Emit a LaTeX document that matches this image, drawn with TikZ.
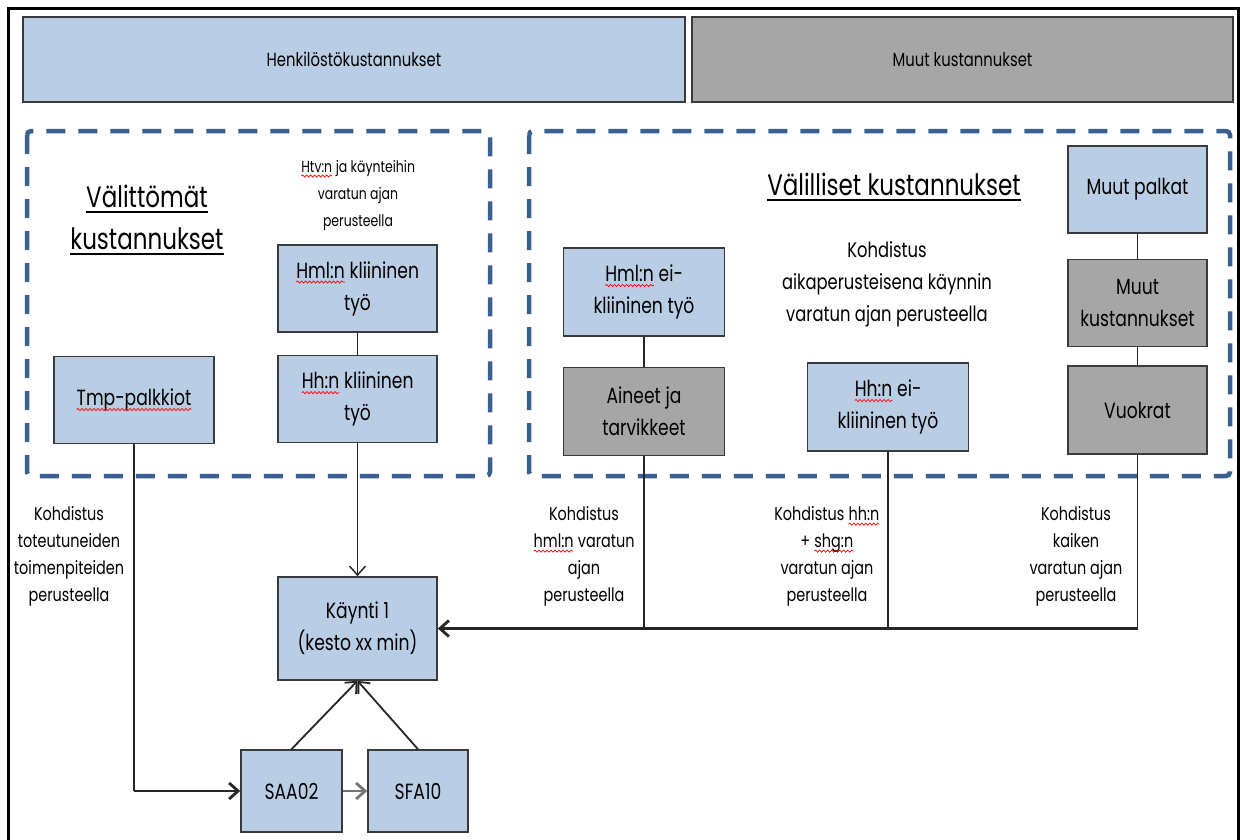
\documentclass[tikz,border=0pt]{standalone}
\usepackage{fontspec}
\setmainfont[FakeStretch=0.78]{Poppins}
\usepackage{xcolor}
\usetikzlibrary{arrows.meta, positioning, decorations.pathmorphing}
\definecolor{boxblue}{HTML}{B9CDE5}
\definecolor{boxgray}{HTML}{A6A6A6}
\definecolor{dashblue}{HTML}{3A6092}
\definecolor{edgegray}{HTML}{3A3A3A}
\newcommand{\spellerr}[1]{\tikz[baseline=(sw.base)]{%
  \node[inner sep=0pt, outer sep=0pt, minimum width=0pt, minimum height=0pt,
        draw=none, fill=none, rectangle] (sw) {#1};
  \draw[red, line width=0.7pt, decorate,
        decoration={snake, amplitude=1.1pt, segment length=4pt}]
    ([yshift=-4pt]sw.base west) -- ([yshift=-4pt]sw.base east);}}
\newcommand{\titleline}[1]{\setbox0\hbox{#1}\rlap{\rule[-5pt]{\wd0}{1.5pt}}\box0}
\tikzset{
  costbox/.style={draw=edgegray, line width=1.6pt, align=center,
                  font=\fontsize{22}{32}\selectfont, inner sep=4pt},
  staffbox/.style={costbox, fill=boxblue},
  otherbox/.style={costbox, fill=boxgray},
  topbox/.style={costbox, font=\fontsize{19}{24}\selectfont,
                 minimum height=85pt},
  groupframe/.style={draw=dashblue, line width=4.5pt,
                     dash pattern=on 19pt off 13pt, rounded corners=4pt},
  heading/.style={align=center, font=\fontsize{29.5}{42}\selectfont},
  basislabel/.style={align=center, font=\fontsize{18.5}{27}\selectfont},
  link/.style={draw=black!85, line width=1.5pt},
  linkarrow/.style={link, -{Straight Barb[length=9pt, width=16pt]}},
  busarrow/.style={linkarrow, line width=2.8pt}
}
\begin{document}
\begin{tikzpicture}[x=1pt, y=-1pt,
  smallbox/.style={minimum width=159pt, minimum height=87pt},
  sidebox/.style={minimum width=139pt, minimum height=87pt},
  codebox/.style={minimum width=100pt, minimum height=82pt}]
\useasboundingbox (0,0) rectangle (1240,839);

% Frame
\draw[line width=3pt] (8,850) -- (8,8) -- (1238,8) -- (1238,850);

% Cost types
\node[topbox, fill=boxblue, minimum width=662pt] (staff) at (354,59.5) {Henkilöstökustannukset};
\node[topbox, fill=boxgray, minimum width=541pt] (other) at (962.5,59.5) {Muut kustannukset};

% Groups
\draw[groupframe] (27,131) rectangle (490,476);
\draw[groupframe] (529,131) rectangle (1230,476);

% Direct costs
\node[heading] (direct) at (147,220) {\titleline{Välittömät}\\\titleline{kustannukset}};
\node[basislabel, font=\fontsize{16}{27}\selectfont] (htvbasis) at (358,195) {\spellerr{Htv:n} ja käynteihin\\varatun ajan\\perusteella};
\node[staffbox, smallbox] (hmlclin) at (357.5,288.5) {\spellerr{Hml:n} kliininen\\työ};
\node[staffbox, smallbox, below=22pt of hmlclin] (hhclin) {\spellerr{Hh:n} kliininen\\työ};
\node[staffbox, smallbox, minimum width=160pt] (tmp) at (134,400) {\spellerr{Tmp-palkkiot}};

% Indirect costs
\node[heading] (indirect) at (894,187) {\titleline{Välilliset kustannukset}};
\node[basislabel, font=\fontsize{21}{32}\selectfont] (timebasis) at (887,284)
  {Kohdistus\\aikaperusteisena käynnin\\varatun ajan perusteella};
\node[staffbox, minimum width=161pt, minimum height=88pt] (hmlnon) at (644,292) {\spellerr{Hml:n} ei-\\kliininen työ};
\node[otherbox, minimum width=161pt, minimum height=88pt, below=30pt of hmlnon] (supplies) {Aineet ja\\tarvikkeet};
\node[staffbox, minimum width=161pt, minimum height=88pt] (hhnon) at (888,407) {\spellerr{Hh:n} ei-\\kliininen työ};
\node[staffbox, sidebox] (otherpay) at (1137.5,189.5) {Muut palkat};
\node[otherbox, sidebox, below=25pt of otherpay] (othercost) {Muut\\kustannukset};
\node[otherbox, sidebox, minimum height=88pt, below=18pt of othercost] (rents) {Vuokrat};

% Visit
\node[staffbox, minimum width=159pt, minimum height=103pt] (visit) at (357.5,628.5) {Käynti 1\\(kesto xx min)};
\node[staffbox, codebox, minimum width=101pt] (saa) at (291.5,791) {SAA02};
\node[staffbox, codebox] (sfa) at (418,791) {SFA10};

% Allocation bases
\node[basislabel] (opbasis) at (69,556) {Kohdistus\\toteutuneiden\\toimenpiteiden\\perusteella};
\node[basislabel] (hmlbasis) at (584,556) {Kohdistus\\\spellerr{hml:n} varatun\\ajan\\perusteella};
\node[basislabel] (hhbasis) at (827,556) {Kohdistus \spellerr{hh:n}\\+ \spellerr{shg:n}\\varatun ajan\\perusteella};
\node[basislabel] (allbasis) at (1076,556) {Kohdistus\\kaiken\\varatun ajan\\perusteella};

% Connectors
\draw[link] (hmlclin) -- (hhclin);
\draw[link] (hmlnon) -- (supplies);
\draw[link] (otherpay) -- (othercost);
\draw[link] (othercost) -- (rents);
\draw[linkarrow] (hhclin) -- (visit);
\coordinate (busend) at (rents.south |- visit.east);
\draw[link] (rents) -- (busend);
\draw[link] (supplies) -- (supplies |- visit.east);
\draw[link] (hhnon) -- (hhnon |- visit.east);
\draw[busarrow] (busend) -- (visit.east);
\coordinate (tmpturn) at (tmp.south |- saa.west);
\draw[link] (tmp) -- (tmpturn);
\draw[busarrow] (tmpturn) -- (saa.west);
\draw[busarrow, draw=black!55] (saa) -- (sfa);
\draw[linkarrow, line width=1.8pt] (saa.north) -- (visit.south);
\draw[linkarrow, line width=1.8pt] (sfa.north) -- (visit.south);

\end{tikzpicture}
\end{document}
